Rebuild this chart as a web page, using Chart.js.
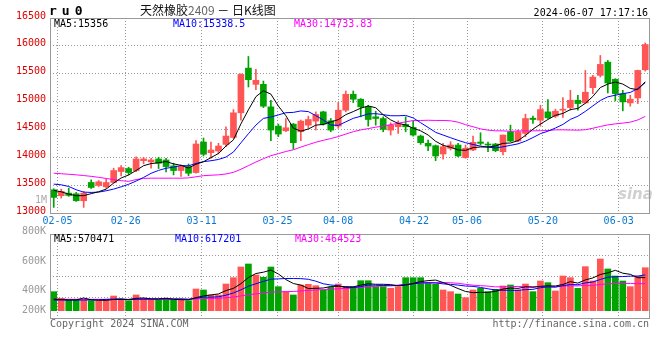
<!DOCTYPE html>
<html>
<head>
<meta charset="utf-8">
<script src="https://cdn.jsdelivr.net/npm/chart.js@4"></script>
<style>
  body { margin: 0; background: #fff; }
  #wrap { position: relative; width: 660px; height: 360px; overflow: hidden;
          font-family: "DejaVu Sans Mono", monospace; font-size: 10px; }
  #wrap canvas { position: absolute; left: 0; }
  .t { position: absolute; white-space: nowrap; line-height: 12px; }
</style>
</head>
<body>
<div id="wrap">
  <canvas id="kline" width="660" height="232" style="top:0"></canvas>
  <canvas id="vol" width="660" height="136" style="top:224px"></canvas>

  <div class="t" style="left:49px;top:5px;font-size:13px;font-weight:bold;letter-spacing:5px">ru0</div>
  <div class="t" style="left:140px;top:4px;font-family:'Noto Sans CJK SC';font-size:12px;color:#111">天然橡胶<span style="color:#666">2409</span> － 日K线图</div>
  <div class="t" style="right:12px;top:7px;color:#000">2024-06-07 17:17:16</div>

  <div class="t" id="ma5" style="left:54px;top:18px;color:#000"></div>
  <div class="t" id="ma10" style="left:173px;top:18px;color:#0000ff"></div>
  <div class="t" id="ma30" style="left:294px;top:18px;color:#ff00ff"></div>
  <div class="t" style="left:35px;top:194px;color:#aaa">1M</div>
  <div class="t" style="left:618px;top:188px;font-family:'DejaVu Sans';font-size:15px;font-style:italic;font-weight:bold;color:rgba(150,150,150,0.45)">sina</div>

  <div class="t" style="right:614px;top:225px;color:#999">800K</div>
  <div class="t" style="right:614px;top:255px;color:#999">600K</div>
  <div class="t" style="right:614px;top:284px;color:#999">400K</div>
  <div class="t" style="right:614px;top:304px;color:#999">200K</div>
  <div class="t" id="vma5" style="left:54px;top:233px;color:#000"></div>
  <div class="t" id="vma10" style="left:175px;top:233px;color:#0000ff"></div>
  <div class="t" id="vma30" style="left:295px;top:233px;color:#ff00ff"></div>

  <div class="t" style="left:50px;top:318px;color:#666">Copyright 2024 SINA.COM</div>
  <div class="t" style="right:11px;top:318px;color:#666">http://finance.sina.com.cn</div>
</div>

<script>
// trading days shown on the chart
const dates = [
  '02-02','02-05','02-06','02-07','02-08','02-19','02-20','02-21','02-22','02-23',
  '02-26','02-27','02-28','02-29','03-01','03-04','03-05','03-06','03-07','03-08',
  '03-11','03-12','03-13','03-14','03-15','03-18','03-19','03-20','03-21','03-22',
  '03-25','03-26','03-27','03-28','03-29','04-01','04-02','04-03','04-08','04-09',
  '04-10','04-11','04-12','04-15','04-16','04-17','04-18','04-19','04-22','04-23',
  '04-24','04-25','04-26','04-29','04-30','05-06','05-07','05-08','05-09','05-10',
  '05-13','05-14','05-15','05-16','05-17','05-20','05-21','05-22','05-23','05-24',
  '05-27','05-28','05-29','05-30','05-31','06-03','06-04','06-05','06-06','06-07'
];
const tickDates = ['02-05','02-26','03-11','03-25','04-08','04-22','05-06','05-20','06-03'];

const open = [
  13417,13310,13357,13345,13220,13548,13494,13470,13548,13744,
  13798,13762,13940,13917,13970,13952,13845,13762,13833,13726,
  14274,14083,14113,14232,14357,14798,15601,15309,15309,14905,
  14560,14476,14595,14458,14577,14649,14815,14655,14560,14845,
  15131,15042,14905,14726,14696,14488,14548,14589,14536,14381,
  14250,14208,14059,14161,14220,13994,14131,14274,14238,14238,
  14101,14458,14292,14428,14702,14667,14815,14738,14845,14893,
  15024,14976,15250,15470,15708,15399,15143,14976,15065,15571
];
const high = [
  13435,13429,13446,13369,13387,13595,13583,13605,13804,13850,
  13821,14006,14000,13982,14000,13982,13893,13863,13881,14298,
  14345,14274,14250,14548,14857,15500,15809,15577,15369,15024,
  14595,14696,14607,14667,14738,14815,14827,14696,14982,15190,
  15190,15053,14934,14827,14726,14619,14655,14726,14650,14399,
  14309,14220,14250,14280,14250,14220,14381,14440,14274,14250,
  14399,14577,14488,14774,14738,14934,15036,14863,15071,15202,
  15113,15559,15470,15827,15738,15411,15202,15113,15565,16053
];
const low = [
  13101,13268,13298,13208,13101,13440,13476,13446,13536,13667,
  13684,13744,13881,13804,13798,13738,13684,13655,13667,13714,
  14024,13982,14060,14190,14339,14667,15262,15214,14893,14298,
  14370,14458,14149,14298,14518,14488,14577,14458,14520,14815,
  14982,14726,14560,14577,14458,14399,14429,14458,14380,14232,
  14119,13940,13964,14131,14012,13982,14119,14220,14101,14101,
  14042,14280,14280,14369,14607,14559,14696,14714,14714,14845,
  14845,14970,15143,15440,15155,15012,14833,14917,14964,15547
];
const close = [
  13280,13387,13315,13220,13357,13458,13560,13548,13762,13815,
  13726,13970,13970,13952,13893,13833,13762,13833,13714,14238,
  14054,14131,14202,14381,14798,15488,15393,15381,14917,14488,
  14417,14530,14262,14649,14678,14768,14595,14488,14845,15131,
  15042,14905,14678,14696,14500,14577,14589,14548,14399,14262,
  14202,14024,14190,14220,14024,14161,14268,14250,14220,14119,
  14399,14292,14458,14696,14678,14857,14708,14827,14863,15024,
  14964,15167,15440,15667,15333,15143,14994,15042,15559,16024
];

// price moving averages
const ma5 = [
  13405,13381,13339,13310,13312,13347,13382,13429,13537,13629,
  13682,13764,13849,13887,13902,13924,13882,13855,13807,13876,
  13920,13994,14068,14201,14313,14600,14852,15088,15195,15133,
  14919,14747,14523,14469,14507,14577,14590,14636,14675,14765,
  14820,14882,14920,14890,14764,14671,14608,14582,14523,14475,
  14400,14287,14215,14180,14132,14124,14173,14185,14185,14204,
  14251,14256,14298,14393,14505,14596,14679,14753,14787,14856,
  14877,14969,15092,15252,15314,15350,15315,15236,15214,15356
];
const ma10 = [
  13518,13506,13476,13417,13375,13369,13375,13399,13429,13470,
  13515,13573,13639,13712,13765,13803,13823,13852,13847,13889,
  13922,13938,13961,14004,14095,14260,14423,14578,14698,14723,
  14760,14800,14806,14832,14820,14748,14669,14579,14572,14636,
  14699,14736,14778,14783,14765,14746,14745,14751,14707,14620,
  14536,14448,14399,14351,14304,14262,14230,14200,14182,14168,
  14188,14214,14241,14289,14354,14424,14468,14525,14590,14680,
  14737,14824,14922,15020,15085,15114,15142,15164,15233,15338.5
];
const ma30 = [
  13714,13705,13695,13685,13672,13658,13640,13620,13600,13580,
  13568,13600,13620,13625,13625,13625,13625,13625,13630,13650,
  13670,13678,13685,13700,13730,13785,13850,13915,13975,14028,
  14065,14104,14135,14183,14227,14270,14305,14336,14372,14416,
  14460,14491,14515,14540,14560,14585,14612,14636,14659,14660,
  14665,14661,14661,14655,14630,14585,14548,14510,14487,14475,
  14474,14466,14473,14474,14474,14477,14481,14492,14493,14489,
  14487,14495,14521,14553,14581,14600,14613,14631,14670,14733.83
];

const volume = [
  327600,214000,184000,184000,184000,172000,172000,184000,253000,184000,
  172000,271000,214000,184000,184000,214000,184000,184000,172000,374000,
  357000,271000,271000,460000,569000,753000,805000,615000,576000,753000,
  414000,328000,271000,443000,455000,431000,357000,403000,460000,414000,
  414000,517000,517000,414000,414000,386000,414000,569000,569000,569000,
  472000,460000,357000,328000,288000,224000,357000,386000,328000,369000,
  426000,443000,357000,460000,328000,512000,483000,340000,598000,569000,
  386000,759000,512000,891000,719000,598000,512000,414000,598000,741000
];
const volMa5 = [
  200000,192000,186000,186000,218700,187600,179200,179200,193000,193000,
  193000,212800,218800,205000,205000,213400,196000,190000,187600,225600,
  254200,271600,289000,346600,385600,464800,571600,640400,663600,700400,
  632600,537200,468400,441800,382200,385600,391400,417800,421200,413000,
  409600,441600,464400,455200,455200,449600,429000,439400,470400,501400,
  518600,527800,485400,437200,381000,331400,310800,316600,316600,332800,
  373200,390400,384600,411000,402800,420000,428000,424600,452200,500400,
  475200,530400,564800,623400,653400,695800,646400,626800,568200,570471
];
const volMa10 = [
  185000,184000,183000,183000,184000,186000,190000,195000,200000,205900,
  190300,196000,199000,199000,199000,203200,204400,204400,196300,215300,
  233800,233800,239500,267100,305600,359500,421600,464700,505100,543000,
  548700,554400,554400,552700,541300,509100,464300,443100,431500,397600,
  397600,416500,441100,438200,434100,429600,435300,451900,462800,478300,
  484100,478400,462400,453800,441200,425000,419300,401000,376900,356900,
  352300,350600,350600,363800,367800,396600,409200,404600,431600,451600,
  447600,479200,494700,537800,576900,585500,588400,595800,595800,617201
];
const volMa30 = [
  198000,198000,197000,197000,197000,196000,196000,196000,196000,196000,
  196000,196000,196000,196000,196000,196000,196000,196000,197000,203000,
  208000,211000,214000,223000,236000,255000,275000,289000,302000,321400,
  324300,328100,331000,339600,348600,357300,363400,370700,377600,385300,
  393400,401600,411700,419300,427000,432700,440400,453200,466500,473000,
  476800,483100,486000,481600,472200,454600,439600,432000,423700,410900,
  411300,415200,418000,418600,414400,417100,421300,419200,423800,428900,
  428000,436100,435900,451800,462000,469000,472300,467100,468100,464523
];

const UP = '#ff5555', DOWN = '#00a300';
const candleColor = close.map((c, i) => c >= open[i] ? UP : DOWN);

Chart.defaults.font.family = "'DejaVu Sans Mono', monospace";
Chart.defaults.font.size = 10;

// grey frame round the plot area
const frame = {
  id: 'frame',
  afterDatasetsDraw(chart) {
    const { ctx, chartArea: a } = chart;
    ctx.save();
    ctx.strokeStyle = '#999';
    ctx.lineWidth = 1;
    ctx.strokeRect(a.left + 0.5, a.top + 0.5, a.width, a.height);
    ctx.restore();
  }
};

function maLine(label, values, color) {
  return {
    type: 'line', label, order: 0,
    data: values.map((v, i) => ({ x: i, y: v })),
    borderColor: color, borderWidth: 1, pointRadius: 0, tension: 0
  };
}

// sina spaces its date grid over n-1 steps while the candles use n slots
function dateAxis(showLabels, height) {
  return {
    type: 'linear', min: -0.5, max: dates.length - 0.5, offset: false,
    grid: { offset: false, color: '#999', drawTicks: false },
    border: { display: false, dash: [1, 2] },
    ticks: { display: showLabels, color: '#0a78d2', padding: 2, autoSkip: false, maxRotation: 0,
             callback: (v, i) => tickDates[i] },
    afterBuildTicks: s => {
      s.ticks = tickDates.map(d => ({ value: dates.indexOf(d) * dates.length / (dates.length - 1) - 0.5 }));
    },
    afterFit: s => { s.height = height; }
  };
}

const common = {
  responsive: false, animation: false, events: [],
  plugins: { legend: { display: false }, tooltip: { enabled: false } }
};

new Chart(document.getElementById('kline'), {
  type: 'bar',
  data: {
    datasets: [
      maLine('MA5', ma5, '#000000'),
      maLine('MA10', ma10, '#0000ff'),
      maLine('MA30', ma30, '#ff00ff'),
      { label: 'body', order: 1, grouped: false, barThickness: 6, minBarLength: 1,
        data: dates.map((d, i) => ({ x: i, y: [open[i], close[i]] })),
        backgroundColor: candleColor },
      { label: 'wick', order: 2, grouped: false, barThickness: 1,
        data: dates.map((d, i) => ({ x: i, y: [low[i], high[i]] })),
        backgroundColor: candleColor }
    ]
  },
  options: {
    ...common,
    layout: { padding: { top: 18, right: 11, left: 0, bottom: 0 } },
    scales: {
      x: dateAxis(true, 19),
      y: {
        min: 13000, max: 16500, beginAtZero: false,
        ticks: { stepSize: 500, color: '#e00000', padding: 4, labelOffset: -2, autoSkip: false,
                 callback: v => String(v) },
        grid: { color: '#999', drawTicks: false },
        border: { display: false, dash: [1, 2] },
        afterFit: s => { s.width = 50; }
      }
    }
  },
  plugins: [frame]
});

new Chart(document.getElementById('vol'), {
  type: 'bar',
  data: {
    datasets: [
      maLine('MA5', volMa5, '#000000'),
      maLine('MA10', volMa10, '#0000ff'),
      maLine('MA30', volMa30, '#ff00ff'),
      { label: 'volume', order: 1, grouped: false, barThickness: 6,
        data: volume.map((v, i) => ({ x: i, y: v })),
        backgroundColor: candleColor }
    ]
  },
  options: {
    ...common,
    layout: { padding: { top: 10, right: 11, left: 0, bottom: 0 } },
    scales: {
      x: dateAxis(false, 42),
      y: {
        min: -126000, max: 1322000, beginAtZero: false,
        ticks: { display: false },
        grid: { color: '#999', drawTicks: false },
        border: { display: false, dash: [1, 2] },
        afterBuildTicks: s => {
          s.ticks = [1, 2, 3].map(k => ({ value: s.min + (s.max - s.min) * k / 4 }));
        },
        afterFit: s => { s.width = 50; }
      }
    }
  },
  plugins: [frame]
});

const last = a => a[a.length - 1];
document.getElementById('ma5').textContent = 'MA5:' + last(ma5);
document.getElementById('ma10').textContent = 'MA10:' + last(ma10);
document.getElementById('ma30').textContent = 'MA30:' + last(ma30);
document.getElementById('vma5').textContent = 'MA5:' + last(volMa5);
document.getElementById('vma10').textContent = 'MA10:' + last(volMa10);
document.getElementById('vma30').textContent = 'MA30:' + last(volMa30);
</script>
</body>
</html>
